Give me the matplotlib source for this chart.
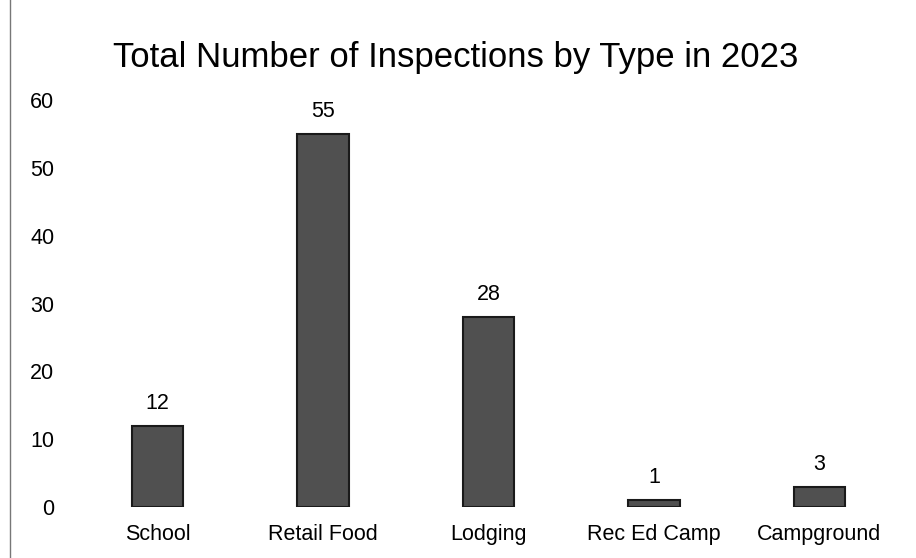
import matplotlib.pyplot as plt
from matplotlib.lines import Line2D

# data
types = ['School', 'Retail Food', 'Lodging', 'Rec Ed Camp', 'Campground']
counts = [12, 55, 28, 1, 3]
yticks = [0, 10, 20, 30, 40, 50, 60]

plt.rcParams['font.family'] = ['Liberation Sans', 'DejaVu Sans']

fig = plt.figure(figsize=(9.16, 5.58), dpi=100)
ax = fig.add_axes([75 / 916, 51 / 558, 827 / 916, 407 / 558])

x = range(len(types))
bars = ax.bar(x, counts, width=0.31, color='#505050', edgecolor='#1a1a1a', linewidth=1.5)

for b, v in zip(bars, counts):
    ax.annotate(str(v), (b.get_x() + b.get_width() / 2, v), xytext=(0, 8.5),
                textcoords='offset points', ha='center', va='bottom', fontsize=15.5)

ax.set_xlim(-0.5, len(types) - 0.5)
ax.set_ylim(0, 60)
ax.set_xticks(list(x))
ax.set_xticklabels(types, fontsize=15.5)
ax.set_yticks(yticks)
ax.set_yticklabels([str(t) for t in yticks], fontsize=15.5)
ax.tick_params(length=0)
ax.tick_params(axis='x', pad=12)
ax.tick_params(axis='y', pad=15)
for s in ax.spines.values():
    s.set_visible(False)

fig.text(456 / 916, 1 - 57 / 558, 'Total Number of Inspections by Type in 2023',
         ha='center', va='center', fontsize=25)

# scanned page edge on the left
fig.add_artist(Line2D([10 / 916, 10 / 916], [0, 1], transform=fig.transFigure,
                      color='#777777', linewidth=1))

fig.savefig('out.png', dpi=100)
